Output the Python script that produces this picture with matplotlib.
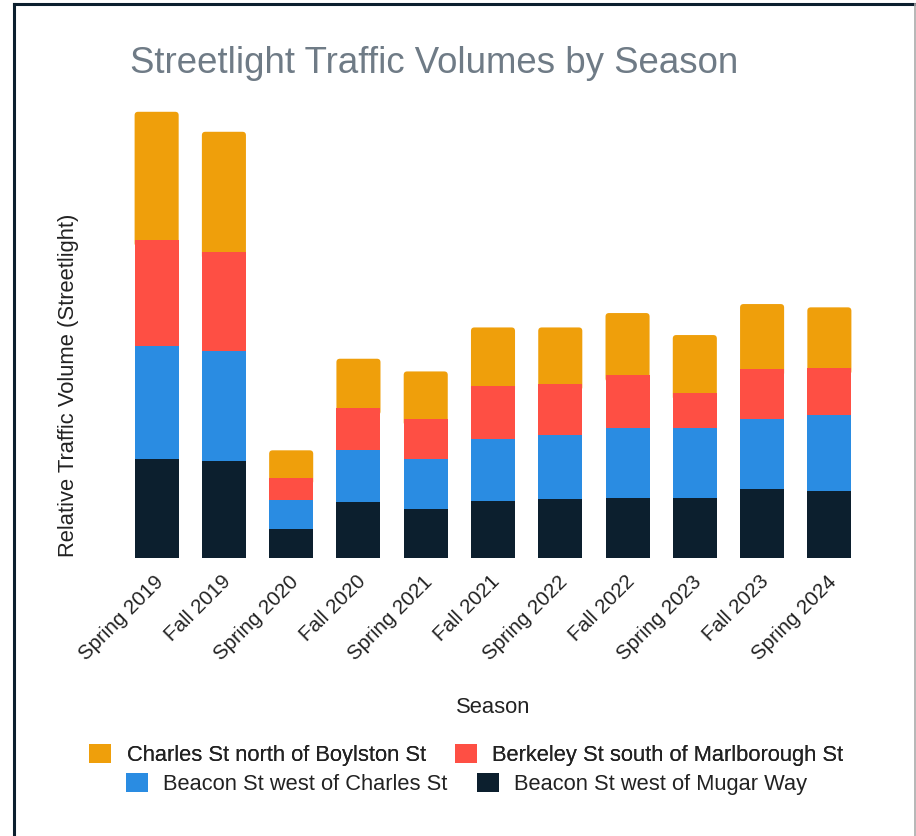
import matplotlib
matplotlib.use("Agg")
import matplotlib.pyplot as plt
from matplotlib.patches import Patch, FancyBboxPatch
from matplotlib.lines import Line2D
from matplotlib.transforms import ScaledTranslation
import numpy as np

plt.rcParams['font.family'] = ['Liberation Sans', 'DejaVu Sans']

seasons = ["Spring 2019", "Fall 2019", "Spring 2020", "Fall 2020", "Spring 2021",
           "Fall 2021", "Spring 2022", "Fall 2022", "Spring 2023", "Fall 2023",
           "Spring 2024"]
beacon_mugar = [98.7, 97.0, 29.0, 56.3, 49.3, 56.6, 58.6, 60.0, 60.0, 69.3, 67.3]
beacon_charles = [113.6, 109.7, 29.3, 51.4, 49.7, 62.4, 64.0, 70.0, 70.0, 69.7, 75.4]
berkeley = [106.0, 99.0, 22.0, 42.3, 40.3, 53.3, 51.7, 53.0, 34.7, 49.7, 47.6]
charles = [128.0, 120.6, 27.4, 49.3, 47.3, 58.3, 56.3, 62.0, 58.3, 65.3, 60.4]

series_names = ["Charles St north of Boylston St", "Berkeley St south of Marlborough St",
                "Beacon St west of Charles St", "Beacon St west of Mugar Way"]
colors = {"Charles St north of Boylston St": "#EF9F0B",
          "Berkeley St south of Marlborough St": "#FE4F44",
          "Beacon St west of Charles St": "#2A8CE2",
          "Beacon St west of Mugar Way": "#0C1F2E"}

W, H = 916, 836
fig = plt.figure(figsize=(W / 100, H / 100), dpi=100)
fig.patch.set_facecolor("white")

ax_l, ax_r, ax_b, ax_t = 123, 863, 558, 88
ax = fig.add_axes([ax_l / W, 1 - ax_b / H, (ax_r - ax_l) / W, (ax_b - ax_t) / H])

x = np.arange(len(seasons))
bw = 0.655
stack = [("Beacon St west of Mugar Way", beacon_mugar),
         ("Beacon St west of Charles St", beacon_charles),
         ("Berkeley St south of Marlborough St", berkeley),
         ("Charles St north of Boylston St", charles)]
totals = np.sum([np.array(v) for _, v in stack], axis=0)
ymax = totals.max() * 1.0533
ax.set_xlim(-0.5, len(seasons) - 0.5)
ax.set_ylim(0, ymax)

# units per pixel
xu = len(seasons) / (ax_r - ax_l)
yu = ymax / (ax_b - ax_t)
rad_px = 3.5

bottom = np.zeros(len(seasons))
for i, (name, vals) in enumerate(stack):
    vals = np.array(vals)
    if i < len(stack) - 1:
        ax.bar(x, vals, bottom=bottom, width=bw, color=colors[name], linewidth=0, zorder=3)
    else:
        for xi, b, v in zip(x, bottom, vals):
            p = FancyBboxPatch((xi - bw / 2, b - 2 * rad_px * yu), bw, v + 2 * rad_px * yu,
                               boxstyle=f"round,pad=0,rounding_size={rad_px * xu}",
                               mutation_aspect=yu / xu, facecolor=colors[name],
                               edgecolor="none", zorder=2)
            ax.add_patch(p)
    bottom += vals

for s in ax.spines.values():
    s.set_visible(False)
ax.set_yticks([])
ax.set_xticks(x)
ax.set_xticklabels(seasons, rotation=45, ha="right", va="center",
                   rotation_mode="anchor", fontsize=14.8, color="#222222")
ax.tick_params(axis="x", length=0, pad=15)
off = ScaledTranslation(4 / 100, 0, fig.dpi_scale_trans)
for lab in ax.get_xticklabels():
    lab.set_transform(lab.get_transform() + off)

fig.text(69 / W, 1 - 385 / H, "Relative Traffic Volume (Streetlight)", rotation=90,
         ha="center", va="center", fontsize=15.8, color="#222222")
fig.text(493 / W, 1 - 713 / H, "Season", ha="center", va="baseline",
         fontsize=15.8, color="#222222")
fig.text(130 / W, 1 - 73 / H, "Streetlight Traffic Volumes by Season", ha="left",
         va="baseline", fontsize=26.4, color="#6F7B86")

def mk_legend(names, ycen):
    handles = [Patch(facecolor=colors[n], edgecolor="none", label=n) for n in names]
    leg = fig.legend(handles=handles, loc="center", bbox_to_anchor=(466.5 / W, 1 - ycen / H),
                     ncol=2, frameon=False, fontsize=15.75, handlelength=1.0,
                     handleheight=1.0, handletextpad=0.7, columnspacing=1.35,
                     borderpad=0, borderaxespad=0, labelcolor="#222222")
    return leg

leg1 = mk_legend(series_names[:2], 755)
fig.add_artist(leg1)
leg2 = mk_legend(series_names[2:], 784)

# frame
fig.add_artist(Line2D([14 / W, 14 / W], [0, 1 - 4 / H], transform=fig.transFigure,
                      color="#0C1F2E", linewidth=2.2))
fig.add_artist(Line2D([14 / W, 1], [1 - 4 / H, 1 - 4 / H], transform=fig.transFigure,
                      color="#0C1F2E", linewidth=2.2))
fig.add_artist(Line2D([915 / W, 915 / W], [0, 1 - 4 / H], transform=fig.transFigure,
                      color="#AAAAAA", linewidth=1.2))

fig.savefig("out.png", dpi=100)
